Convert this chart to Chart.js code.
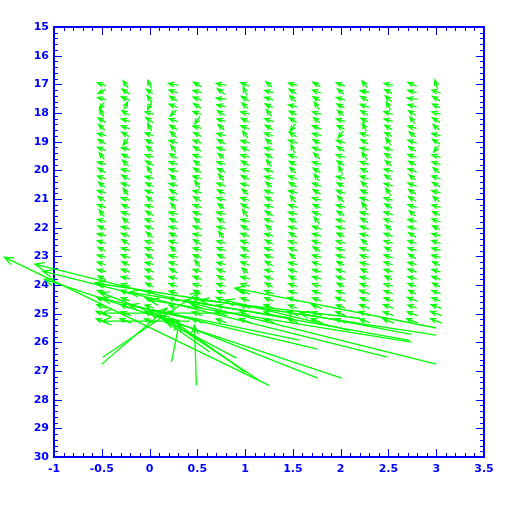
<!doctype html>
<html lang="en">
<head>
    <meta charset="utf-8">
    <script src="https://cdn.jsdelivr.net/npm/chart.js"></script>
    <title>Vector field</title>
    <style>
        body { margin: 0; background: #ffffff; }
    </style>
</head>
<body>
<canvas id="peta" width="512" height="512"></canvas>
<script type="text/javascript">
    // grid of input positions (colour, magnitude)
    var colorCols = [-0.5, -0.25, 0, 0.25, 0.5, 0.75, 1, 1.25, 1.5, 1.75, 2, 2.25, 2.5, 2.75, 3];
    var magRows = [17, 17.25, 17.5, 17.75, 18, 18.25, 18.5, 18.75, 19, 19.25, 19.5, 19.75,
                   20, 20.25, 20.5, 20.75, 21, 21.25, 21.5, 21.75, 22, 22.25, 22.5, 22.75,
                   23, 23.25, 23.5, 23.75, 24, 24.25, 24.5, 24.75, 25, 25.25];

    // small shifts, one row per magnitude, in units of shiftUnit (colour / magnitude)
    var shiftUnit = 0.013;
    var shiftU = [
        [-7,-4,-3,-8,-6,-8,-7,-5,-7,-6,-7,-4,-7,-7,-2],
        [-6,-6,-5,-7,-7,-6,-3,-7,-6,-7,-5,-7,-6,-7,-7],
        [-7,-7,-4,-6,-7,-8,-6,-7,-5,-6,-7,-6,-5,-8,-6],
        [-4,3,-3,-7,-6,-7,-5,-6,-7,-4,-6,-7,-3,-7,-6],
        [-3,-6,-7,-5,-7,-6,-7,-4,-6,-7,-5,-6,-7,-6,-7],
        [-6,-7,-6,-7,-4,-7,-6,-7,-6,-5,-7,-6,-7,-4,-6],
        [-5,-7,-3,-6,-7,-5,-7,-6,-4,-7,-6,-3,-6,-7,-5],
        [-7,-6,-7,-5,-6,-7,-4,-7,-6,-7,-4,-7,-6,-5,-7],
        [-6,-4,-6,-7,-7,-6,-7,-5,-7,-6,-7,-6,-4,-7,-6],
        [-7,-7,-5,-4,-6,-7,-6,-7,-3,-7,-6,-7,-7,-6,-4],
        [-4,-6,-7,-6,-7,-5,-7,-6,-7,-5,-7,-4,-6,-7,-7],
        [-7,-5,-6,-7,-5,-7,-6,-4,-6,-7,-6,-7,-5,-6,-7],
        [-6,-7,-4,-7,-6,-6,-7,-7,-5,-6,-3,-6,-7,-7,-5],
        [-7,-6,-7,-5,-7,-4,-6,-7,-7,-4,-7,-7,-6,-5,-7],
        [-5,-7,-6,-7,-4,-7,-7,-5,-6,-7,-6,-5,-7,-7,-6],
        [-7,-4,-7,-6,-7,-6,-5,-7,-7,-6,-7,-6,-4,-6,-7],
        [-6,-7,-5,-7,-6,-7,-7,-6,-4,-7,-5,-7,-7,-6,-5],
        [-7,-6,-7,-4,-7,-5,-6,-7,-7,-6,-7,-4,-6,-7,-7],
        [-4,-7,-6,-7,-7,-7,-4,-6,-7,-7,-6,-7,-7,-5,-6],
        [-7,-5,-7,-6,-5,-6,-7,-7,-6,-4,-7,-6,-7,-7,-7],
        [-6,-7,-7,-7,-7,-7,-6,-5,-7,-7,-7,-7,-5,-7,-6],
        [-7,-7,-5,-6,-7,-4,-7,-7,-6,-7,-6,-7,-7,-6,-7],
        [-7,-6,-7,-7,-6,-7,-7,-6,-7,-7,-7,-5,-7,-7,-7],
        [-6,-7,-7,-5,-7,-7,-6,-7,-7,-6,-7,-7,-6,-7,-7],
        [-7,-7,-6,-7,-7,-6,-7,-7,-5,-7,-7,-7,-7,-6,-7],
        [-7,-6,-7,-7,-4,-7,-7,-6,-7,-7,-6,-7,-7,-7,-6],
        [-7,-7,-7,-6,-7,-7,-5,-7,-7,-7,-7,-6,-7,-7,-7],
        [-6,-7,-7,-7,-7,-6,-7,-7,-6,-7,-7,-7,-6,-7,-7],
        [-7,-7,-6,-7,-7,-7,-7,-6,-7,-7,-6,-7,-7,-7,-6],
        [-7,-8,-7,-7,-6,-7,-8,-7,-7,-7,-7,-8,-7,-6,-7],
        [-8,-7,-7,-8,-7,-8,-7,-7,-8,-7,-8,-7,-7,-8,-7],
        [-8,-8,-7,-7,-8,-7,-8,-8,-7,-8,-7,-8,-8,-7,-8],
        [-9,-8,-8,-9,-8,-9,-8,-8,-9,-8,-8,-9,-8,-8,-9],
        [-9,-9,-8,-9,-9,-8,-9,-9,-8,-9,-9,-8,-9,-9,-9]
    ];
    var shiftV = [
        [-8,-20,-22,-4,-12,-4,-9,-14,-6,-12,-8,-18,-5,-10,-24],
        [10,-14,-12,-8,-6,-16,-22,-6,-12,-8,-14,-4,-10,-6,-8],
        [-6,-10,-18,-12,-8,-3,-12,-7,-16,-10,-6,-12,-15,-4,-12],
        [18,-20,20,-9,-12,-6,-15,-10,-5,-20,-10,-8,-22,-6,-10],
        [-22,-12,-6,16,-8,-12,-6,-18,-10,-6,-14,-12,-8,-12,-6],
        [-12,-6,-14,-8,20,-6,-10,-8,-12,-14,-6,-10,-6,-18,-12],
        [-16,-8,-20,-12,-6,-16,-8,-12,20,-8,-10,-22,-12,-6,-14],
        [-6,-12,-8,-16,-10,-6,-18,-8,-12,-6,18,-8,-10,-14,-6],
        [-12,18,-10,-6,-8,-12,-6,-14,-8,-10,-6,-12,-20,-8,-12],
        [-8,-6,-14,-20,-12,-8,-10,-6,-22,-8,-12,-6,-8,-12,18],
        [-18,-10,-6,-12,-8,-14,-6,-10,-8,-16,-6,-20,-12,-8,-6],
        [-6,-16,-12,-8,-14,-6,-12,-18,-10,-6,-12,-8,-14,-10,-6],
        [-12,-6,-20,-8,-12,-10,-6,-8,-16,-12,-22,-10,-6,-8,-14],
        [-8,-12,-6,-14,-8,-18,-10,-6,-8,-18,-6,-8,-12,-14,-8],
        [-14,-8,-10,-6,-20,-8,-6,-14,-12,-8,-10,-16,-6,-8,-12],
        [-6,-18,-8,-12,-6,-10,-16,-8,-6,-12,-8,-10,-20,-12,-6],
        [-12,-6,-14,-8,-12,-6,-8,-10,-18,-6,-16,-8,-6,-12,-14],
        [-8,-10,-6,-18,-8,-14,-12,-6,-8,-10,-6,-20,-12,-8,-6],
        [-18,-8,-12,-6,-8,-6,-20,-12,-6,-8,-12,-6,-8,-14,-10],
        [-6,-14,-8,-10,-14,-12,-6,-8,-10,-18,-6,-12,-8,-6,-8],
        [-10,-6,-8,-6,-8,-6,-12,-14,-6,-8,-6,-8,-14,-6,-10],
        [-6,-8,-14,-10,-6,-18,-8,-6,-12,-6,-10,-6,-8,-12,-6],
        [-8,-12,-6,-8,-12,-6,-8,-10,-6,-8,-6,-14,-6,-8,-8],
        [-10,-6,-8,-14,-6,-8,-12,-6,-8,-12,-6,-8,-10,-6,-6],
        [-6,-8,-12,-6,-8,-10,-6,-8,-14,-6,-8,-6,-8,-12,-6],
        [-8,-10,-6,-8,-18,-6,-8,-12,-6,-8,-10,-6,-8,-6,-10],
        [-6,-8,-8,-12,-6,-8,-14,-6,-8,-6,-8,-10,-6,-8,-6],
        [-10,-6,-8,-6,-8,-12,-6,-8,-10,-6,-8,-6,-10,-6,-8],
        [-8,-6,-10,-8,-6,-8,-6,-10,-8,-6,-10,-8,-6,-8,-10],
        [-8,-10,-8,-6,-10,-8,-10,-8,-6,-8,-8,-10,-8,-10,-8],
        [-10,-8,-8,-10,-8,-10,-8,-8,-10,-8,-10,-8,-8,-10,-8],
        [-10,-10,-8,-8,-10,-8,-10,-10,-8,-10,-8,-10,-10,-8,-10],
        [-12,-10,-10,-12,-10,-12,-10,-10,-12,-10,-10,-12,-10,-10,-12],
        [-12,-12,-10,-12,-12,-10,-12,-12,-10,-12,-12,-10,-12,-12,-12]
    ];

    // large shifts at the faint end: tail (colour, mag) -> head (colour, mag)
    var longTailX = [1.25, 3.00, 2.49, 2.01, 3.00, 1.76, 1.76, 3.00, 2.74, 2.74, 0.42, 0.94, -0.50, -0.49, 0.49, 1.00, 0.91, 1.13, 0.23, 0.63, 2.09, 1.57, 2.72, 1.49, 2.20];
    var longTailY = [27.50, 26.76, 26.52, 27.25, 25.75, 27.25, 26.24, 25.50, 25.99, 25.72, 25.26, 24.98, 26.76, 26.52, 27.50, 27.04, 26.55, 27.29, 26.69, 26.34, 25.58, 25.92, 25.93, 25.16, 25.16];
    var longHeadX = [-1.52, -1.20, -1.12, -1.10, -0.57, -0.52, -0.50, 0.89, 0.00, 1.57, -0.50, -0.50, 0.18, 0.52, 0.47, 0.21, 0.16, 0.11, 0.31, 0.00, 0.79, -0.21, 0.37, -0.21, 0.53];
    var longHeadY = [23.03, 23.27, 23.52, 23.80, 23.93, 24.25, 24.46, 24.11, 24.53, 24.98, 25.26, 24.98, 24.81, 24.25, 25.40, 25.16, 25.23, 25.05, 25.30, 24.88, 24.53, 24.70, 24.53, 24.25, 24.53];

    var xTicks = { min: -1, max: 3.5, major: 0.5, minor: 0.1 };
    var yTicks = { min: 15, max: 30, major: 1, minor: 0.2 };

    var BLUE = '#0000ff';
    var GREEN = '#00ff00';

    var gridPoints = [];
    magRows.forEach(function (m, i) {
        colorCols.forEach(function (c, j) {
            var u = shiftU[i][j] * shiftUnit, v = shiftV[i][j] * shiftUnit;
            gridPoints.push({ x: c - u / 2, y: m - v / 2, hx: c + u / 2, hy: m + v / 2 });
        });
    });
    var longPoints = longTailX.map(function (x, i) {
        return { x: x, y: longTailY[i], hx: longHeadX[i], hy: longHeadY[i] };
    });

    function drawArrow(ctx, x0, y0, x1, y1) {
        var dx = x1 - x0, dy = y1 - y0;
        var len = Math.sqrt(dx * dx + dy * dy);
        if (len < 0.5) return;
        var ang = Math.atan2(dy, dx);
        var hl = len > 30 ? 10 : 6;
        var ha = 0.38;
        ctx.beginPath();
        ctx.moveTo(x0, y0);
        ctx.lineTo(x1, y1);
        ctx.moveTo(x1 - hl * Math.cos(ang - ha), y1 - hl * Math.sin(ang - ha));
        ctx.lineTo(x1, y1);
        ctx.lineTo(x1 - hl * Math.cos(ang + ha), y1 - hl * Math.sin(ang + ha));
        ctx.stroke();
    }

    var arrowPlugin = {
        id: 'arrows',
        afterDatasetsDraw: function (chart) {
            var ctx = chart.ctx, sx = chart.scales.x, sy = chart.scales.y;
            ctx.save();
            ctx.strokeStyle = GREEN;
            ctx.lineWidth = 1.3;
            chart.data.datasets.forEach(function (ds) {
                ds.data.forEach(function (p) {
                    drawArrow(ctx, sx.getPixelForValue(p.x), sy.getPixelForValue(p.y),
                              sx.getPixelForValue(p.hx), sy.getPixelForValue(p.hy));
                });
            });
            ctx.restore();
        }
    };

    // frame with inward major/minor ticks on all four sides
    var framePlugin = {
        id: 'frame',
        beforeDatasetsDraw: function (chart) {
            var ctx = chart.ctx, a = chart.chartArea, sx = chart.scales.x, sy = chart.scales.y;
            ctx.save();
            ctx.strokeStyle = BLUE;
            ctx.lineWidth = 1;
            ctx.beginPath();
            var n = Math.round((xTicks.max - xTicks.min) / xTicks.minor);
            for (var i = 0; i <= n; i++) {
                var v = xTicks.min + i * xTicks.minor;
                var px = Math.round(sx.getPixelForValue(v)) + 0.5;
                var L = (i % 5 === 0) ? 8 : 4;
                ctx.moveTo(px, a.bottom); ctx.lineTo(px, a.bottom - L);
                ctx.moveTo(px, a.top); ctx.lineTo(px, a.top + L);
            }
            n = Math.round((yTicks.max - yTicks.min) / yTicks.minor);
            for (i = 0; i <= n; i++) {
                v = yTicks.min + i * yTicks.minor;
                var py = Math.round(sy.getPixelForValue(v)) + 0.5;
                L = (i % 5 === 0) ? 8 : 4;
                ctx.moveTo(a.left, py); ctx.lineTo(a.left + L, py);
                ctx.moveTo(a.right, py); ctx.lineTo(a.right - L, py);
            }
            ctx.stroke();
            ctx.lineWidth = 2;
            ctx.strokeRect(a.left, a.top, a.right - a.left, a.bottom - a.top);
            ctx.restore();
        }
    };

    var tickFont = { family: 'DejaVu Sans', size: 11, weight: 'bold' };
    function plainLabel(v) { return String(parseFloat(Number(v).toFixed(2))); }

    var ctx = document.getElementById('peta').getContext('2d');
    var chart = new Chart(ctx, {
        type: 'scatter',
        data: {
            datasets: [
                { label: 'grid', data: gridPoints, pointRadius: 0, showLine: false },
                { label: 'long', data: longPoints, pointRadius: 0, showLine: false }
            ]
        },
        options: {
            responsive: false,
            animation: false,
            events: [],
            layout: { padding: { top: 27, right: 28, left: 0, bottom: 0 } },
            plugins: { legend: { display: false }, tooltip: { enabled: false } },
            scales: {
                x: {
                    type: 'linear', min: xTicks.min, max: xTicks.max,
                    grid: { display: false, drawTicks: false },
                    border: { display: false },
                    ticks: { stepSize: xTicks.major, color: BLUE, font: tickFont, padding: 6, maxRotation: 0, autoSkip: false, callback: plainLabel },
                    afterFit: function (s) { s.height = 55; }
                },
                y: {
                    type: 'linear', min: yTicks.min, max: yTicks.max, reverse: true,
                    grid: { display: false, drawTicks: false },
                    border: { display: false },
                    ticks: { stepSize: yTicks.major, color: BLUE, font: tickFont, padding: 5, autoSkip: false, callback: plainLabel },
                    afterFit: function (s) { s.width = 54; }
                }
            }
        },
        plugins: [framePlugin, arrowPlugin]
    });
</script>
</body>
</html>
